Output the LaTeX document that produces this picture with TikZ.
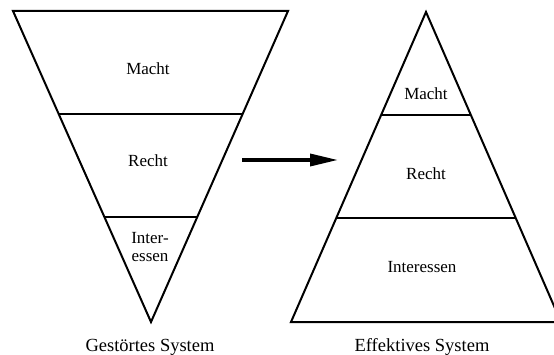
\documentclass[tikz,border=0pt]{standalone}
\usepackage{fontspec}
\setmainfont{Liberation Serif}
\usepackage{tikz}
\usetikzlibrary{arrows.meta}

\tikzset{
	layer/.style={font=\fontsize{17}{18}\selectfont, align=center},
	caption/.style={font=\fontsize{18.5}{20}\selectfont, anchor=base},
	edge/.style={line width=2pt, line join=miter},
}

\begin{document}
\begin{tikzpicture}[x=1pt,y=-1pt]
	\useasboundingbox (0,0) rectangle (554,355);
	% gestoertes System
	\draw [edge] (13,11) -- (288,11) -- (151,322) -- cycle;
	\draw [edge] (59,114) -- (242,114);
	\draw [edge] (105,217) -- (197,217);
	\node [layer] (lmacht) at (148,69) {Macht};
	\node [layer] (lrecht) at (148,161) {Recht};
	\node [layer] (linter) at (150,247) {Inter-\\essen};
	\node [caption] (lcap) at (150,351) {Gestörtes System};
	% effektives System
	\draw [edge] (426,12) -- (561,322) -- (291,322) -- cycle;
	\draw [edge] (381,115) -- (471,115);
	\draw [edge] (336,218) -- (516,218);
	\node [layer] (rmacht) at (426,94) {Macht};
	\node [layer] (rrecht) at (426,174) {Recht};
	\node [layer] (rinter) at (422,267) {Interessen};
	\node [caption] (rcap) at (422,351) {Effektives System};
	% Pfeil
	\coordinate (pfeilA) at (242,160);
	\coordinate (pfeilB) at (338,160);
	\draw [line width=3.5pt, -{Triangle[length=28pt,width=12pt]}] (pfeilA) -- (pfeilB);
\end{tikzpicture}
\end{document}
